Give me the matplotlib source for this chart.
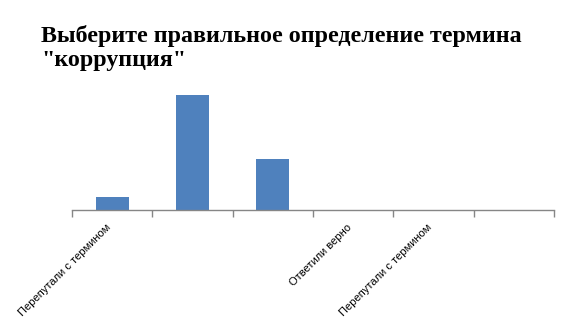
import numpy as np
import matplotlib.pyplot as plt
import matplotlib.transforms as mtransforms

# answers to the quiz question
categories = ["Перепутали с термином", "", "", "Ответили верно",
              "Перепутали с термином", ""]
counts = [1, 9, 4, 0, 0, 0]

fig = plt.figure(figsize=(5.65, 3.31), dpi=100)
ax = fig.add_axes([72 / 565, 1 - 210 / 331, 482 / 565, 128 / 331])

x = np.arange(len(categories))
ax.bar(x, counts, width=0.41, color="#4F81BD")

ax.set_xlim(-0.5, len(categories) - 0.5)
ax.set_ylim(0, 10)

# category boundaries get the tick marks, labels sit at the centres
ax.set_xticks(x)
ax.set_xticklabels(categories, rotation=45, ha="right", va="top",
                   rotation_mode="anchor", fontsize=8,
                   family="Liberation Sans")
ax.tick_params(axis="x", which="major", length=0, pad=9)
shift = mtransforms.ScaledTranslation(-7 / 100, 0, fig.dpi_scale_trans)
for lbl in ax.get_xticklabels():
    lbl.set_transform(lbl.get_transform() + shift)
ax.set_xticks(np.arange(len(categories) + 1) - 0.5, minor=True)
ax.tick_params(axis="x", which="minor", length=5, width=1, color="#868686")

ax.yaxis.set_visible(False)
for side in ["top", "right", "left"]:
    ax.spines[side].set_visible(False)
ax.spines["bottom"].set_color("#868686")
ax.spines["bottom"].set_linewidth(1)

fig.text(41 / 565, 1 - 25 / 331,
         "Выберите правильное определение термина\n\"коррупция\"",
         ha="left", va="top", fontsize=17.3, fontweight="bold",
         family="Liberation Serif", linespacing=1.2)

fig.savefig("out.png", dpi=100)
